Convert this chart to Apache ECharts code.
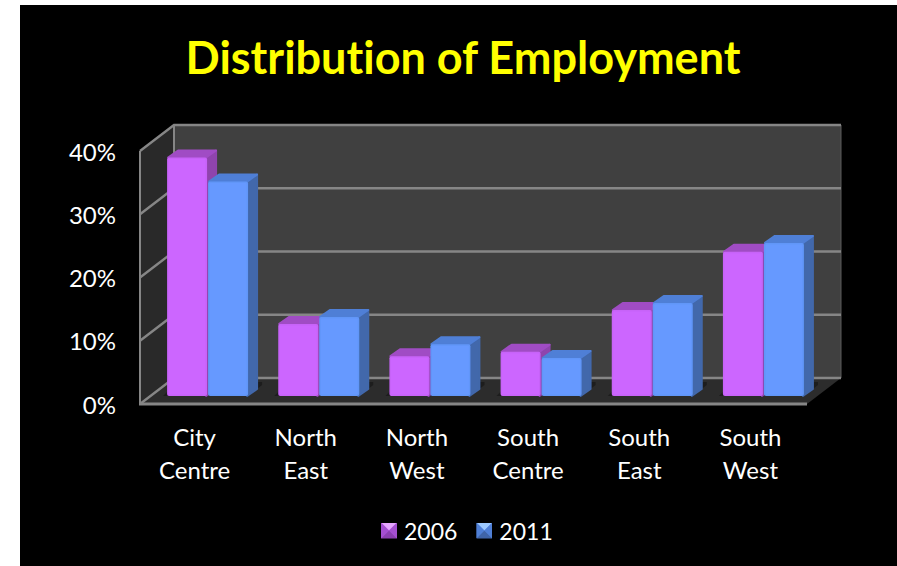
<!DOCTYPE html>
<html>
<head>
<meta charset="utf-8">
<style>
  html, body { margin: 0; padding: 0; background: #fff; }
  #chart { width: 897px; height: 566px; }
  #chart svg text { font-variant-ligatures: none !important; }
</style>
<script src="https://cdn.jsdelivr.net/npm/echarts@6/dist/echarts.min.js"></script>
</head>
<body>
<div id="chart"></div>
<script>
const categories = ['City\nCentre', 'North\nEast', 'North\nWest', 'South\nCentre', 'South\nEast', 'South\nWest'];
const employment2006 = [37.7, 11.4, 6.3, 7.0, 13.6, 22.8];
const employment2011 = [33.9, 12.5, 8.2, 6.0, 14.7, 24.2];
const percentTicks = [0, 10, 20, 30, 40];

// Oblique projection of the box: how far the back wall and the bar depth shift.
const WALL_DX = 34, WALL_DY = -26;
const BAR_INSET_DX = 12, BAR_INSET_DY = -8;
const BAR_DEPTH_DX = 10, BAR_DEPTH_DY = -8;
const BAR_WIDTH = 40, BAR_GAP = 1;
const GRID_COLOR = '#868686';

const bevelIcon = (light, mid, dark, side) => 'image://data:image/svg+xml;utf8,' + encodeURIComponent(
  `<svg xmlns="http://www.w3.org/2000/svg" width="16" height="16">` +
  `<rect width="16" height="16" fill="${mid}"/>` +
  `<polygon points="0,0 16,0 8,8" fill="${light}"/>` +
  `<polygon points="0,0 0,16 8,8" fill="${side}"/>` +
  `<polygon points="16,0 16,16 8,8" fill="${side}"/>` +
  `<polygon points="0,16 16,16 8,8" fill="${dark}"/>` +
  `</svg>`);

function poly(points, fill, soft) {
  const style = { fill };
  if (soft) {
    style.stroke = fill;
    style.lineWidth = 2;
    style.lineJoin = 'round';
  }
  return { type: 'polygon', shape: { points }, style, silent: true };
}

// Walls and floor of the box, drawn behind the bars.
function renderBox(params, api) {
  const g = params.coordSys;
  const top = api.coord([0, percentTicks[percentTicks.length - 1]])[1];
  const bottom = api.coord([0, 0])[1];
  const l = g.x, r = g.x + g.width;
  return {
    type: 'group',
    children: [
      poly([[l + WALL_DX, top + WALL_DY], [r + WALL_DX, top + WALL_DY], [r + WALL_DX, bottom + WALL_DY], [l + WALL_DX, bottom + WALL_DY]], '#404040'),
      poly([[l, top], [l + WALL_DX, top + WALL_DY], [l + WALL_DX, bottom + WALL_DY], [l, bottom]], '#292929'),
      poly([[l, bottom], [l + WALL_DX, bottom + WALL_DY], [r + WALL_DX, bottom + WALL_DY], [r, bottom]], '#2c2c2c'),
      { type: 'line', shape: { x1: l + WALL_DX, y1: top + WALL_DY, x2: l + WALL_DX, y2: bottom + WALL_DY }, style: { stroke: GRID_COLOR, lineWidth: 2 }, silent: true },
      { type: 'line', shape: { x1: r + WALL_DX, y1: top + WALL_DY, x2: r + WALL_DX, y2: bottom + WALL_DY }, style: { stroke: '#5a5a5a', lineWidth: 1 }, silent: true },
      { type: 'line', shape: { x1: l, y1: top, x2: l, y2: bottom }, style: { stroke: GRID_COLOR, lineWidth: 2 }, silent: true },
      { type: 'line', shape: { x1: l - 1, y1: bottom, x2: r, y2: bottom }, style: { stroke: GRID_COLOR, lineWidth: 3 }, silent: true }
    ]
  };
}

// One gridline per tick: across the side wall, then along the back wall.
function renderGridline(params, api) {
  const g = params.coordSys;
  const y = api.coord([0, api.value(0)])[1];
  return {
    type: 'polyline',
    silent: true,
    shape: { points: [[g.x, y], [g.x + WALL_DX, y + WALL_DY], [g.x + g.width + WALL_DX, y + WALL_DY]] },
    style: { fill: 'none', stroke: GRID_COLOR, lineWidth: 2.4 }
  };
}

// Soft dark shadow on the floor under each pair of bars.
function renderShadow(params, api) {
  const c = api.coord([api.value(0), 0]);
  const cx = c[0] + BAR_INSET_DX, by = c[1] + BAR_INSET_DY;
  const w = BAR_WIDTH + BAR_GAP / 2;
  return poly([
    [cx - w - 4, by], [cx + w, by],
    [cx + w + 14, by - 11], [cx + w + 14, by - 14], [cx - w + 10, by - 14]
  ], '#1d1d1d');
}

function makeBarRenderer(side, colors) {
  return function (params, api) {
    const cat = api.value(0);
    const base = api.coord([cat, 0]);
    const tip = api.coord([cat, api.value(1)]);
    const cx = base[0] + BAR_INSET_DX;
    const x0 = side < 0 ? cx - BAR_WIDTH - BAR_GAP / 2 : cx + BAR_GAP / 2;
    const x1 = x0 + BAR_WIDTH;
    const y0 = base[1] + BAR_INSET_DY;
    const y1 = tip[1] + BAR_INSET_DY;
    const dx = BAR_DEPTH_DX, dy = BAR_DEPTH_DY;
    return {
      type: 'group',
      children: [
        poly([[x1 - 1, y1 + 1], [x1 + dx - 1, y1 + dy + 1], [x1 + dx - 1, y0 + dy + 1], [x1 - 1, y0]], colors.side, true),
        poly([[x0 + 1, y1], [x0 + dx + 1, y1 + dy + 1], [x1 + dx - 1, y1 + dy + 1], [x1 - 1, y1]], colors.top, true),
        { type: 'rect', shape: { x: x0, y: y1, width: BAR_WIDTH, height: y0 - y1, r: 2 }, style: { fill: colors.edge }, silent: true },
        { type: 'rect', shape: { x: x0 + 1.5, y: y1 + 1.5, width: BAR_WIDTH - 3, height: y0 - y1 - 3, r: 1 }, style: { fill: colors.face }, silent: true }
      ]
    };
  };
}

const pink = { face: '#cc66ff', edge: '#c763f8', top: '#a04cc4', side: '#8f44ad' };
const blue = { face: '#6699ff', edge: '#6196f8', top: '#4f7fd6', side: '#4268ab' };

const chart = echarts.init(document.getElementById('chart'), null, { renderer: 'svg' });
chart.setOption({
  animation: false,
  backgroundColor: '#fff',
  graphic: [{
    type: 'rect', z: -10, silent: true,
    shape: { x: 20, y: 5, width: 877, height: 561 },
    style: { fill: '#000' }
  }],
  title: {
    text: 'Distribution of Employment',
    left: 458, top: 29, textAlign: 'center',
    textStyle: { color: '#ffff00', fontFamily: 'Lato', fontWeight: 'bold', fontSize: 45 }
  },
  legend: {
    data: [
      { name: '2006', icon: bevelIcon('#e6a6ff', '#c45ff2', '#8a3fb0', '#a44fd0') },
      { name: '2011', icon: bevelIcon('#9cc8ff', '#5f92f4', '#3f64a8', '#4f7fd6') }
    ],
    left: 376, top: 514,
    itemWidth: 16, itemHeight: 16, itemGap: 19,
    textStyle: { color: '#fff', fontFamily: 'Lato', fontSize: 23, padding: [0, 0, 0, 2] }
  },
  grid: { left: 140, top: 151, width: 667, height: 253, containLabel: false },
  xAxis: {
    type: 'category',
    data: categories,
    axisLine: { show: false },
    axisTick: { show: false },
    axisLabel: { color: '#fff', fontFamily: 'Lato', fontSize: 24, lineHeight: 33, margin: 16, interval: 0, padding: [0, 2, 0, 0] }
  },
  yAxis: {
    type: 'value', min: 0, max: 40, interval: 10,
    axisLine: { show: false },
    axisTick: { show: false },
    splitLine: { show: false },
    axisLabel: { color: '#fff', fontFamily: 'Lato', fontSize: 24, margin: 24, padding: [0, 0, 2, 0], formatter: '{value}%' }
  },
  series: [
    { type: 'custom', silent: true, z: 1, renderItem: renderBox, data: [[0]], encode: { x: 0 }, legendHoverLink: false, tooltip: { show: false } },
    { type: 'custom', silent: true, z: 2, renderItem: renderGridline, data: percentTicks.map(t => [t]), encode: { y: 0 }, tooltip: { show: false } },
    { type: 'custom', silent: true, z: 3, renderItem: renderShadow, data: categories.map((_, i) => [i]), encode: { x: 0 }, tooltip: { show: false } },
    { name: '2006', type: 'custom', z: 4, renderItem: makeBarRenderer(-1, pink), itemStyle: { color: pink.face }, data: employment2006.map((v, i) => [i, v]), encode: { x: 0, y: 1 } },
    { name: '2011', type: 'custom', z: 5, renderItem: makeBarRenderer(1, blue), itemStyle: { color: blue.face }, data: employment2011.map((v, i) => [i, v]), encode: { x: 0, y: 1 } }
  ]
});
</script>
</body>
</html>
